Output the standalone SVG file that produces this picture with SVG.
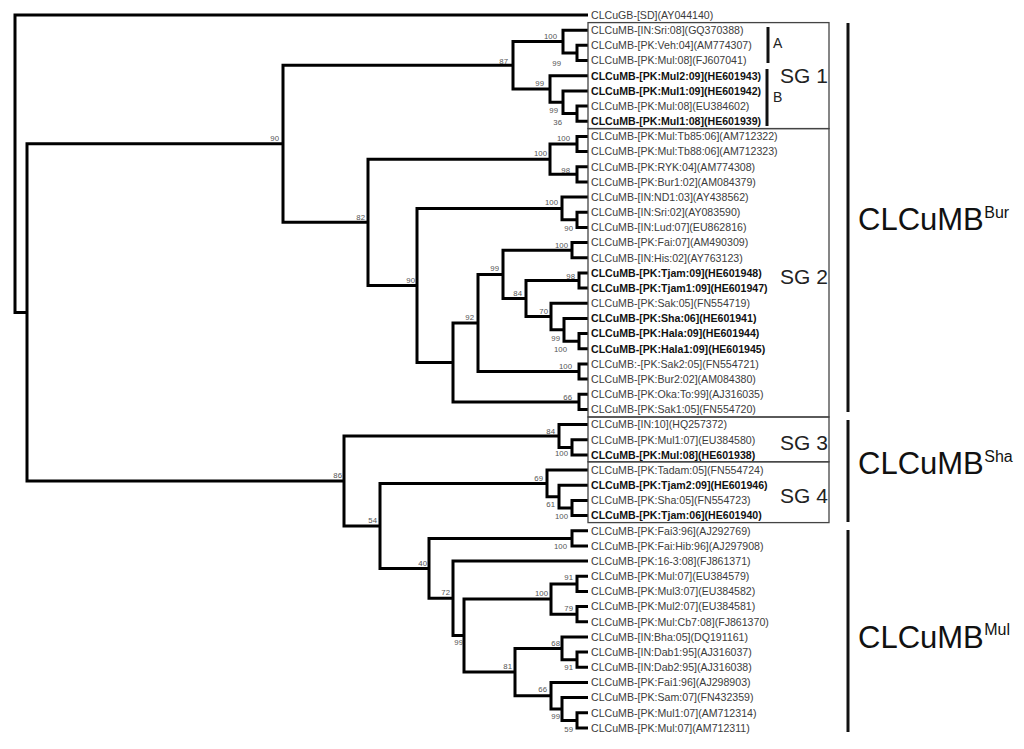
<svg xmlns="http://www.w3.org/2000/svg" width="1024" height="749" viewBox="0 0 1024 749">
<style>
.br{fill:none;stroke:#000;stroke-width:3;stroke-linejoin:miter;stroke-linecap:butt}
.lf{font-family:"Liberation Sans",Arial,sans-serif;font-size:10.6px;fill:#3c3c3c}
.lb{font-family:"Liberation Sans",Arial,sans-serif;font-size:10.6px;fill:#111;font-weight:bold}
.bs{font-family:"Liberation Sans",Arial,sans-serif;font-size:7.8px;fill:#555;text-anchor:end}
.box{fill:none;stroke:#444;stroke-width:1.3}
.bar{stroke:#111;stroke-width:3}
.sg{font-family:"Liberation Sans",Arial,sans-serif;font-size:21px;fill:#222}
.ab{font-family:"Liberation Sans",Arial,sans-serif;font-size:14px;fill:#222}
.big{font-family:"Liberation Sans",Arial,sans-serif;font-size:31px;fill:#111}
</style>
<rect width="1024" height="749" fill="#fff"/>
<g id="connectors">
<path class="br" d="M588,15 H15 V312.4 H27"/>
<path class="br" d="M283,143.8 H27 V481 H344"/>
<path class="br" d="M513,65.3 H283 V222.3 H368"/>
<path class="br" d="M563,41.6 H513 V89 H550"/>
<path class="br" d="M588,30.2 H563 V52.9 H577"/>
<path class="br" d="M588,45.3 H577 V60.5 H588"/>
<path class="br" d="M588,75.7 H550 V102.3 H563"/>
<path class="br" d="M588,90.9 H563 V113.6 H577"/>
<path class="br" d="M588,106 H577 V121.2 H588"/>
<path class="br" d="M550,159.2 H368 V285.4 H417"/>
<path class="br" d="M577,144 H550 V174.3 H577"/>
<path class="br" d="M588,136.4 H577 V151.5 H588"/>
<path class="br" d="M588,166.7 H577 V181.9 H588"/>
<path class="br" d="M562,208.4 H417 V362.4 H453"/>
<path class="br" d="M588,197 H562 V219.8 H577"/>
<path class="br" d="M588,212.2 H577 V227.4 H588"/>
<path class="br" d="M478,322.9 H453 V401.9 H579"/>
<path class="br" d="M588,394.3 H579 V409.4 H588"/>
<path class="br" d="M503,274.4 H478 V371.5 H579"/>
<path class="br" d="M588,363.9 H579 V379.1 H588"/>
<path class="br" d="M572,250.2 H503 V298.5 H526"/>
<path class="br" d="M588,242.6 H572 V257.7 H588"/>
<path class="br" d="M579,280.5 H526 V316.5 H551"/>
<path class="br" d="M588,272.9 H579 V288.1 H588"/>
<path class="br" d="M588,303.2 H551 V329.8 H564"/>
<path class="br" d="M588,318.4 H564 V341.2 H579"/>
<path class="br" d="M588,333.6 H579 V348.7 H588"/>
<path class="br" d="M559,436 H344 V525.9 H380"/>
<path class="br" d="M588,424.6 H559 V447.4 H572"/>
<path class="br" d="M588,439.8 H572 V454.9 H588"/>
<path class="br" d="M547,483.4 H380 V568.4 H429"/>
<path class="br" d="M588,470.1 H547 V496.7 H559"/>
<path class="br" d="M588,485.3 H559 V508 H572"/>
<path class="br" d="M588,500.4 H572 V515.6 H588"/>
<path class="br" d="M572,538.4 H429 V598.3 H453"/>
<path class="br" d="M588,530.8 H572 V545.9 H588"/>
<path class="br" d="M588,561.1 H453 V635.5 H464"/>
<path class="br" d="M551,599 H464 V672.1 H515"/>
<path class="br" d="M577,583.9 H551 V614.2 H577"/>
<path class="br" d="M588,576.3 H577 V591.5 H588"/>
<path class="br" d="M588,606.6 H577 V621.8 H588"/>
<path class="br" d="M562,648.4 H515 V695.8 H551"/>
<path class="br" d="M588,637 H562 V659.7 H577"/>
<path class="br" d="M588,652.1 H577 V667.3 H588"/>
<path class="br" d="M588,682.5 H551 V709 H562"/>
<path class="br" d="M588,697.6 H562 V720.4 H577"/>
<path class="br" d="M588,712.8 H577 V728 H588"/>
</g>
<g id="bootstrap">
<g id="n-t1"><text class="bs" x="279" y="140.5">90</text></g>
<g id="n-e11"><text class="bs" x="365" y="219.5">82</text></g>
<g id="n-s1"><text class="bs" x="508" y="64">87</text></g>
<g id="n-a2"><text class="bs" x="557" y="38.5">100</text></g>
<g id="n-a1"><text class="bs" x="561" y="66">99</text></g>
<g id="n-b3"><text class="bs" x="544" y="86">99</text></g>
<g id="n-b2"><text class="bs" x="558" y="113">99</text></g>
<g id="n-b1"><text class="bs" x="562" y="124.5">36</text></g>
<g id="n-c1"><text class="bs" x="570" y="141">100</text></g>
<g id="n-c3"><text class="bs" x="547" y="156">100</text></g>
<g id="n-c2"><text class="bs" x="570" y="172.5">98</text></g>
<g id="n-d2"><text class="bs" x="558" y="205">100</text></g>
<g id="n-d1"><text class="bs" x="573" y="231">90</text></g>
<g id="n-e1"><text class="bs" x="568" y="247.5">100</text></g>
<g id="n-e10"><text class="bs" x="415" y="283">90</text></g>
<g id="n-e7"><text class="bs" x="499" y="271">99</text></g>
<g id="n-e2"><text class="bs" x="575" y="278.5">98</text></g>
<g id="n-e6"><text class="bs" x="522" y="296">84</text></g>
<g id="n-e8"><text class="bs" x="474" y="319.5">92</text></g>
<g id="n-e5"><text class="bs" x="548" y="314">70</text></g>
<g id="n-e4"><text class="bs" x="560" y="341">99</text></g>
<g id="n-e3"><text class="bs" x="567" y="352">100</text></g>
<g id="n-f1"><text class="bs" x="572" y="369">100</text></g>
<g id="n-g1"><text class="bs" x="572" y="399.5">66</text></g>
<g id="n-q2"><text class="bs" x="342" y="477.5">86</text></g>
<g id="n-h2"><text class="bs" x="555" y="433.5">84</text></g>
<g id="n-h1"><text class="bs" x="568" y="456">100</text></g>
<g id="n-q1"><text class="bs" x="377" y="522.5">54</text></g>
<g id="n-i3"><text class="bs" x="543" y="481">69</text></g>
<g id="n-i2"><text class="bs" x="555" y="507">61</text></g>
<g id="n-i1"><text class="bs" x="568" y="519">100</text></g>
<g id="n-p3"><text class="bs" x="427" y="566">40</text></g>
<g id="n-j1"><text class="bs" x="567" y="549">100</text></g>
<g id="n-p2"><text class="bs" x="450" y="595">72</text></g>
<g id="n-p1"><text class="bs" x="463" y="645">99</text></g>
<g id="n-k3"><text class="bs" x="548" y="596">100</text></g>
<g id="n-k1"><text class="bs" x="573" y="580">91</text></g>
<g id="n-k2"><text class="bs" x="573" y="610.5">79</text></g>
<g id="n-m3"><text class="bs" x="512" y="668.5">81</text></g>
<g id="n-m2"><text class="bs" x="560" y="646">68</text></g>
<g id="n-m1"><text class="bs" x="573" y="670">91</text></g>
<g id="n-n3"><text class="bs" x="547" y="692">66</text></g>
<g id="n-n2"><text class="bs" x="560" y="719">99</text></g>
<g id="n-n1"><text class="bs" x="573" y="732">59</text></g>
</g>
<g id="leaves">
<g id="leaf-0"><text class="lf" x="591" y="18.8">CLCuGB-[SD](AY044140)</text></g>
<g id="leaf-1"><text class="lf" x="591" y="34">CLCuMB-[IN:Sri:08](GQ370388)</text></g>
<g id="leaf-2"><text class="lf" x="591" y="49.1">CLCuMB-[PK:Veh:04](AM774307)</text></g>
<g id="leaf-3"><text class="lf" x="591" y="64.3">CLCuMB-[PK:Mul:08](FJ607041)</text></g>
<g id="leaf-4"><text class="lb" x="591" y="79.5">CLCuMB-[PK:Mul2:09](HE601943)</text></g>
<g id="leaf-5"><text class="lb" x="591" y="94.7">CLCuMB-[PK:Mul1:09](HE601942)</text></g>
<g id="leaf-6"><text class="lf" x="591" y="109.8">CLCuMB-[PK:Mul:08](EU384602)</text></g>
<g id="leaf-7"><text class="lb" x="591" y="125">CLCuMB-[PK:Mul1:08](HE601939)</text></g>
<g id="leaf-8"><text class="lf" x="591" y="140.2">CLCuMB-[PK:Mul:Tb85:06](AM712322)</text></g>
<g id="leaf-9"><text class="lf" x="591" y="155.3">CLCuMB-[PK:Mul:Tb88:06](AM712323)</text></g>
<g id="leaf-10"><text class="lf" x="591" y="170.5">CLCuMB-[PK:RYK:04](AM774308)</text></g>
<g id="leaf-11"><text class="lf" x="591" y="185.7">CLCuMB-[PK:Bur1:02](AM084379)</text></g>
<g id="leaf-12"><text class="lf" x="591" y="200.8">CLCuMB-[IN:ND1:03](AY438562)</text></g>
<g id="leaf-13"><text class="lf" x="591" y="216">CLCuMB-[IN:Sri:02](AY083590)</text></g>
<g id="leaf-14"><text class="lf" x="591" y="231.2">CLCuMB-[IN:Lud:07](EU862816)</text></g>
<g id="leaf-15"><text class="lf" x="591" y="246.4">CLCuMB-[PK:Fai:07](AM490309)</text></g>
<g id="leaf-16"><text class="lf" x="591" y="261.5">CLCuMB-[IN:His:02](AY763123)</text></g>
<g id="leaf-17"><text class="lb" x="591" y="276.7">CLCuMB-[PK:Tjam:09](HE601948)</text></g>
<g id="leaf-18"><text class="lb" x="591" y="291.9">CLCuMB-[PK:Tjam1:09](HE601947)</text></g>
<g id="leaf-19"><text class="lf" x="591" y="307">CLCuMB-[PK:Sak:05](FN554719)</text></g>
<g id="leaf-20"><text class="lb" x="591" y="322.2">CLCuMB-[PK:Sha:06](HE601941)</text></g>
<g id="leaf-21"><text class="lb" x="591" y="337.4">CLCuMB-[PK:Hala:09](HE601944)</text></g>
<g id="leaf-22"><text class="lb" x="591" y="352.5">CLCuMB-[PK:Hala1:09](HE601945)</text></g>
<g id="leaf-23"><text class="lf" x="591" y="367.7">CLCuMB:-[PK:Sak2:05](FN554721)</text></g>
<g id="leaf-24"><text class="lf" x="591" y="382.9">CLCuMB-[PK:Bur2:02](AM084380)</text></g>
<g id="leaf-25"><text class="lf" x="591" y="398.1">CLCuMB-[PK:Oka:To:99](AJ316035)</text></g>
<g id="leaf-26"><text class="lf" x="591" y="413.2">CLCuMB-[PK:Sak1:05](FN554720)</text></g>
<g id="leaf-27"><text class="lf" x="591" y="428.4">CLCuMB-[IN:10](HQ257372)</text></g>
<g id="leaf-28"><text class="lf" x="591" y="443.6">CLCuMB-[PK:Mul1:07](EU384580)</text></g>
<g id="leaf-29"><text class="lb" x="591" y="458.7">CLCuMB-[PK:Mul:08](HE601938)</text></g>
<g id="leaf-30"><text class="lf" x="591" y="473.9">CLCuMB-[PK:Tadam:05](FN554724)</text></g>
<g id="leaf-31"><text class="lb" x="591" y="489.1">CLCuMB-[PK:Tjam2:09](HE601946)</text></g>
<g id="leaf-32"><text class="lf" x="591" y="504.2">CLCuMB-[PK:Sha:05](FN554723)</text></g>
<g id="leaf-33"><text class="lb" x="591" y="519.4">CLCuMB-[PK:Tjam:06](HE601940)</text></g>
<g id="leaf-34"><text class="lf" x="591" y="534.6">CLCuMB-[PK:Fai3:96](AJ292769)</text></g>
<g id="leaf-35"><text class="lf" x="591" y="549.7">CLCuMB-[PK:Fai:Hib:96](AJ297908)</text></g>
<g id="leaf-36"><text class="lf" x="591" y="564.9">CLCuMB-[PK:16-3:08](FJ861371)</text></g>
<g id="leaf-37"><text class="lf" x="591" y="580.1">CLCuMB-[PK:Mul:07](EU384579)</text></g>
<g id="leaf-38"><text class="lf" x="591" y="595.3">CLCuMB-[PK:Mul3:07](EU384582)</text></g>
<g id="leaf-39"><text class="lf" x="591" y="610.4">CLCuMB-[PK:Mul2:07](EU384581)</text></g>
<g id="leaf-40"><text class="lf" x="591" y="625.6">CLCuMB-[PK:Mul:Cb7:08](FJ861370)</text></g>
<g id="leaf-41"><text class="lf" x="591" y="640.8">CLCuMB-[IN:Bha:05](DQ191161)</text></g>
<g id="leaf-42"><text class="lf" x="591" y="655.9">CLCuMB-[IN:Dab1:95](AJ316037)</text></g>
<g id="leaf-43"><text class="lf" x="591" y="671.1">CLCuMB-[IN:Dab2:95](AJ316038)</text></g>
<g id="leaf-44"><text class="lf" x="591" y="686.3">CLCuMB-[PK:Fai1:96](AJ298903)</text></g>
<g id="leaf-45"><text class="lf" x="591" y="701.4">CLCuMB-[PK:Sam:07](FN432359)</text></g>
<g id="leaf-46"><text class="lf" x="591" y="716.6">CLCuMB-[PK:Mul1:07](AM712314)</text></g>
<g id="leaf-47"><text class="lf" x="591" y="731.8">CLCuMB-[PK:Mul:07](AM712311)</text></g>
</g>
<g id="sg1">
<rect class="box" x="588" y="22.6" width="241" height="106"/>
<line class="bar" x1="768" y1="27" x2="768" y2="63"/>
<line class="bar" x1="767" y1="69" x2="767" y2="126"/>
<text class="ab" x="773" y="48">A</text>
<text class="ab" x="773" y="102">B</text>
<text class="sg" x="780" y="83">SG 1</text>
</g>
<g id="sg2">
<rect class="box" x="588" y="128.6" width="241" height="288.4"/>
<text class="sg" x="780" y="284">SG 2</text>
</g>
<g id="sg3">
<rect class="box" x="588" y="417" width="241" height="44.8"/>
<text class="sg" x="780" y="450">SG 3</text>
</g>
<g id="sg4">
<rect class="box" x="588" y="461.8" width="241" height="60.8"/>
<text class="sg" x="780" y="503">SG 4</text>
</g>
<g id="clade-bur">
<line class="bar" x1="848" y1="23" x2="848" y2="412"/>
<text class="big" x="858" y="230">CLCuMB<tspan font-size="16" dx="0.5" y="218">Bur</tspan></text>
</g>
<g id="clade-sha">
<line class="bar" x1="848" y1="420" x2="848" y2="522"/>
<text class="big" x="858" y="474">CLCuMB<tspan font-size="16" dx="0.5" y="462">Sha</tspan></text>
</g>
<g id="clade-mul">
<line class="bar" x1="848" y1="530" x2="848" y2="732"/>
<text class="big" x="858" y="648">CLCuMB<tspan font-size="16" dx="0.5" y="635">Mul</tspan></text>
</g>
</svg>
